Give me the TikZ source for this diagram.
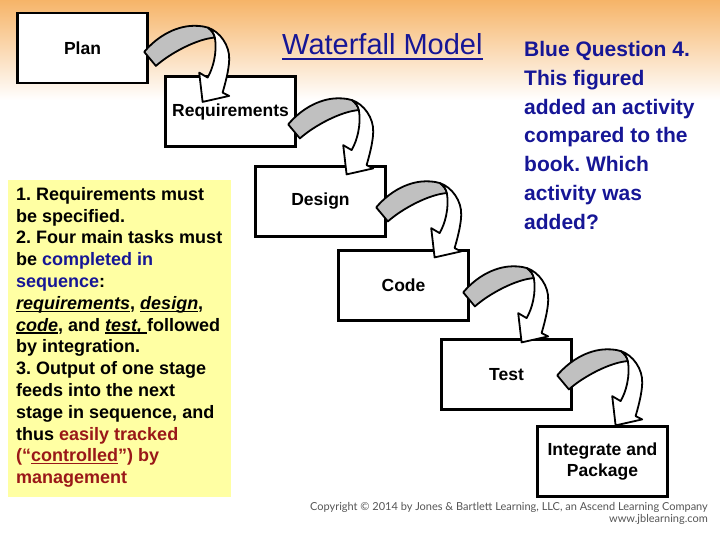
\documentclass[tikz,border=0pt]{standalone}
\usepackage{fontspec}
\setmainfont{Liberation Sans}
\newfontfamily\copyfont{Lato}
\usetikzlibrary{calc}
\frenchspacing
\definecolor{bgtop}{RGB}{246,180,104}
\definecolor{qblue}{RGB}{22,22,150}
\definecolor{tred}{RGB}{154,24,24}
\definecolor{notey}{RGB}{255,255,163}
\definecolor{arrgray}{RGB}{192,192,192}
\definecolor{copygray}{RGB}{85,85,85}
\newcommand{\ulx}[3]{\leavevmode\setbox0=\hbox{#3}\rlap{\rule[-#2]{\wd0}{#1}}\box0}
\newcommand{\nul}[1]{\ulx{1.2pt}{2.6pt}{\itshape #1}}
\newcommand{\bentarrow}[1]{%
  \begin{scope}[shift={#1}]
    \filldraw[arrowband, fill=arrgray] (-8.7,49.3) .. controls (5,33) and (25,22) .. (44.7,23.3)
      .. controls (49,23.6) and (52,24) .. (55,25)
      .. controls (59,28) and (61,31) .. (62,35)
      .. controls (45,36) and (18,50) .. (3,63.3) -- cycle;
    \filldraw[arrowband, fill=white] (55,25) .. controls (67,29) and (77,43) .. (76.3,57)
      .. controls (76,68) and (72,82) .. (69.7,90) -- (76.3,93.3) -- (49.7,99.3) -- (46.3,70)
      -- (54.7,75) .. controls (60,66) and (64.5,50) .. (62,35)
      .. controls (61,31) and (59,28) .. (55,25) -- cycle;
  \end{scope}}
\begin{document}
\begin{tikzpicture}[x=1pt,y=-1pt,
  stage/.style={draw, line width=2.8pt, fill=white, minimum width=130pt, minimum height=70pt,
    inner sep=0pt, align=center, font=\fontsize{17.5}{21}\selectfont\bfseries},
  arrowband/.style={draw=black, line width=1.8pt, line join=round}]
\useasboundingbox (0,0) rectangle (720,540);
\fill[white] (0,0) rectangle (720,540);
\shade[top color=bgtop, bottom color=white] (0,0) rectangle (720,100);

% stages
\node[stage] (plan) at (82.5,48) {Plan};
\node[stage] (req) at (230.5,111.5) {Requirements};
\node[stage] (design) at (320.5,201.5) {Design};
\node[stage] (code) at (403.5,285.5) {Code};
\node[stage] (test) at (506.5,374.5) {Test};
\node[stage] (integ) at (602.5,461.5) {Integrate and\\Package};

% curved arrows
\bentarrow{($(plan.north east)+(4,-9)$)}
\bentarrow{($(req.north east)+(0,0)$)}
\bentarrow{($(design.north east)+(-2,-7)$)}
\bentarrow{($(code.north east)+(2,-6)$)}
\bentarrow{($(test.north east)+(-7,-12)$)}

% title
\node[anchor=base west, inner sep=0pt, text=qblue, font=\fontsize{29}{32}\selectfont] (title) at (282,55)
  {\ulx{2pt}{5pt}{Waterfall Model}};

% question
\node[anchor=north west, inner sep=0pt, align=left, text=qblue,
  font=\fontsize{21}{28.8}\selectfont\bfseries] (question) at (524,41)
  {Blue Question 4.\\This figured\\added an activity\\compared to the\\book. Which\\activity was\\added?};

% notes
\fill[notey] (8,180) rectangle (231,497);
\node[anchor=north west, inner sep=0pt, align=left,
  font=\fontsize{18}{21.8}\selectfont\bfseries] (notes) at (16,187)
  {1. Requirements must\\
   be specified.\\
   2. Four main tasks must\\
   be \textcolor{qblue}{completed in}\\
   \textcolor{qblue}{sequence}:\\
   \nul{requirements}, \nul{design},\\
   \nul{code}, and \nul{test, }followed\\
   by integration.\\
   3. Output of one stage\\
   feeds into the next\\
   stage in sequence, and\\
   thus \textcolor{tred}{easily tracked}\\
   \textcolor{tred}{(“\ulx{1.2pt}{2.6pt}{controlled}”) by}\\
   \textcolor{tred}{management}};

% copyright
\node[anchor=base east, inner sep=0pt, text=copygray, font=\copyfont\fontsize{11}{12}\selectfont] (copy1) at (708,510)
  {Copyright © 2014 by Jones \& Bartlett Learning, LLC, an Ascend Learning Company};
\node[anchor=base east, inner sep=0pt, text=copygray, font=\copyfont\fontsize{11}{12}\selectfont] (copy2) at (708,522)
  {www.jblearning.com};
\end{tikzpicture}
\end{document}
